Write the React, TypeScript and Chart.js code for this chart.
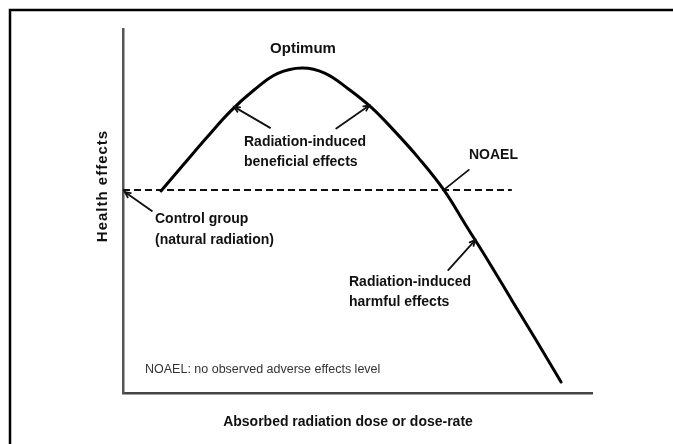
import React, { useEffect, useRef } from "react";
import { Chart, registerables } from "chart.js";

Chart.register(...registerables);

// Curve: absorbed dose (x) vs health effects (y), arbitrary units
const doseX = [0.81, 1.3, 1.8, 2.3, 2.8, 3.3, 3.82, 4.3, 4.8, 5.3, 5.8, 6.3, 6.84, 7.3, 7.8, 8.3, 8.8, 9.34];
const healthY = [5.55, 6.29, 7.04, 7.75, 8.33, 8.78, 8.93, 8.79, 8.36, 7.84, 7.18, 6.46, 5.58, 4.63, 3.6, 2.53, 1.47, 0.3];
// Control group (natural radiation) level
const controlLevel = 5.58;
const controlRange = [0, 8.29];

const xTitle = "Absorbed radiation dose or dose-rate";
const yTitle = "Health effects";
const footnote = "NOAEL: no observed adverse effects level";

// Annotation labels (text only)
const labelOptimum = ["Optimum"];
const labelBeneficial = ["Radiation-induced", "beneficial effects"];
const labelNoael = ["NOAEL"];
const labelControl = ["Control group", "(natural radiation)"];
const labelHarmful = ["Radiation-induced", "harmful effects"];

export default function App() {
  const ref = useRef<HTMLCanvasElement | null>(null);

  useEffect(() => {
    const canvas = ref.current;
    if (!canvas) return;

    const FONT = "'Liberation Sans', Arial, sans-serif";

    const decor = {
      id: "decor",
      beforeDraw(chart: any) {
        const ctx = chart.ctx;
        ctx.save();
        ctx.fillStyle = "#fff";
        ctx.fillRect(0, 0, chart.width, chart.height);
        ctx.restore();
      },
      afterDraw(chart: any) {
        const ctx = chart.ctx as CanvasRenderingContext2D;
        const xs = chart.scales.x;
        const ys = chart.scales.y;
        const px = (v: number) => xs.getPixelForValue(v);
        const py = (v: number) => ys.getPixelForValue(v);
        ctx.save();

        // outer frame (top & left)
        ctx.strokeStyle = "#000";
        ctx.lineWidth = 2.5;
        ctx.beginPath();
        ctx.moveTo(chart.width, 10);
        ctx.lineTo(10, 10);
        ctx.lineTo(10, chart.height);
        ctx.stroke();

        const drawLines = (lines: string[], x: number, y: number, size: number, bold: boolean, align: CanvasTextAlign, color: string, gap: number) => {
          ctx.font = `${bold ? "bold " : ""}${size}px ${FONT}`;
          ctx.fillStyle = color;
          ctx.textAlign = align;
          ctx.textBaseline = "middle";
          lines.forEach((l, i) => ctx.fillText(l, x, y + i * gap));
        };

        drawLines(labelOptimum, 303, 49, 15, true, "center", "#111", 20);
        drawLines(labelBeneficial, 244, 142, 14, true, "left", "#111", 20);
        drawLines(labelNoael, 469, 155, 14, true, "left", "#111", 20);
        drawLines(labelControl, 155, 219, 14, true, "left", "#111", 21);
        drawLines(labelHarmful, 349, 282, 14, true, "left", "#111", 20);
        drawLines([footnote], 145, 370, 12.5, false, "left", "#333", 16);
        drawLines([xTitle], 348, 422, 14, true, "center", "#111", 16);

        // y title rotated
        ctx.save();
        ctx.translate(103, 186);
        ctx.rotate(-Math.PI / 2);
        (ctx as any).letterSpacing = "1px";
        drawLines([yTitle], 0, 0, 15, true, "center", "#111", 16);
        ctx.restore();

        // arrows: tip in data units, tail as pixel offset from tip
        const arrow = (tx: number, ty: number, dx: number, dy: number, head: boolean) => {
          const x2 = px(tx), y2 = py(ty);
          const x1 = x2 + dx, y1 = y2 + dy;
          ctx.strokeStyle = "#111";
          ctx.lineWidth = 1.8;
          ctx.lineCap = "round";
          ctx.beginPath();
          ctx.moveTo(x1, y1);
          ctx.lineTo(x2, y2);
          ctx.stroke();
          if (head) {
            const a = Math.atan2(y2 - y1, x2 - x1);
            const L = 6;
            ctx.beginPath();
            ctx.moveTo(x2 - L * Math.cos(a - 0.45), y2 - L * Math.sin(a - 0.45));
            ctx.lineTo(x2, y2);
            ctx.lineTo(x2 - L * Math.cos(a + 0.45), y2 - L * Math.sin(a + 0.45));
            ctx.stroke();
          }
        };
        arrow(2.37, 7.86, 36, 21, true);
        arrow(5.25, 7.9, -33, 23, true);
        arrow(6.84, 5.58, 25, -20, false);
        arrow(7.51, 4.2, -27, 30, true);
        arrow(0.04, 5.52, 27, 19, true);

        ctx.restore();
      },
    };

    const chart = new Chart(canvas, {
      type: "line",
      data: {
        datasets: [
          {
            data: doseX.map((x, i) => ({ x, y: healthY[i] })),
            borderColor: "#000",
            borderWidth: 3,
            pointRadius: 0,
            tension: 0.4,
            borderCapStyle: "round",
            borderJoinStyle: "round",
            fill: false,
          },
          {
            data: controlRange.map((x) => ({ x, y: controlLevel })),
            borderColor: "#111",
            borderWidth: 2,
            borderDash: [7, 4],
            pointRadius: 0,
            fill: false,
          },
        ],
      },
      options: {
        responsive: false,
        animation: false,
        events: [],
        layout: { padding: { left: 123, top: 29, right: 81, bottom: 51 } },
        plugins: { legend: { display: false }, tooltip: { enabled: false }, title: { display: false } },
        scales: {
          x: {
            type: "linear",
            min: 0,
            max: 10,
            grid: { display: false, drawTicks: false },
            ticks: { display: false },
            border: { display: true, color: "#444", width: 2.5 },
          },
          y: {
            type: "linear",
            min: 0,
            max: 10,
            grid: { display: false, drawTicks: false },
            ticks: { display: false },
            border: { display: true, color: "#555", width: 2.5 },
          },
        },
      },
      plugins: [decor],
    } as any);

    return () => chart.destroy();
  }, []);

  return (
    <div style={{ position: "fixed", left: 0, top: 0, width: 673, height: 444, background: "#fff" }}>
      <canvas ref={ref} width={673} height={444} style={{ width: 673, height: 444, display: "block" }} />
    </div>
  );
}
